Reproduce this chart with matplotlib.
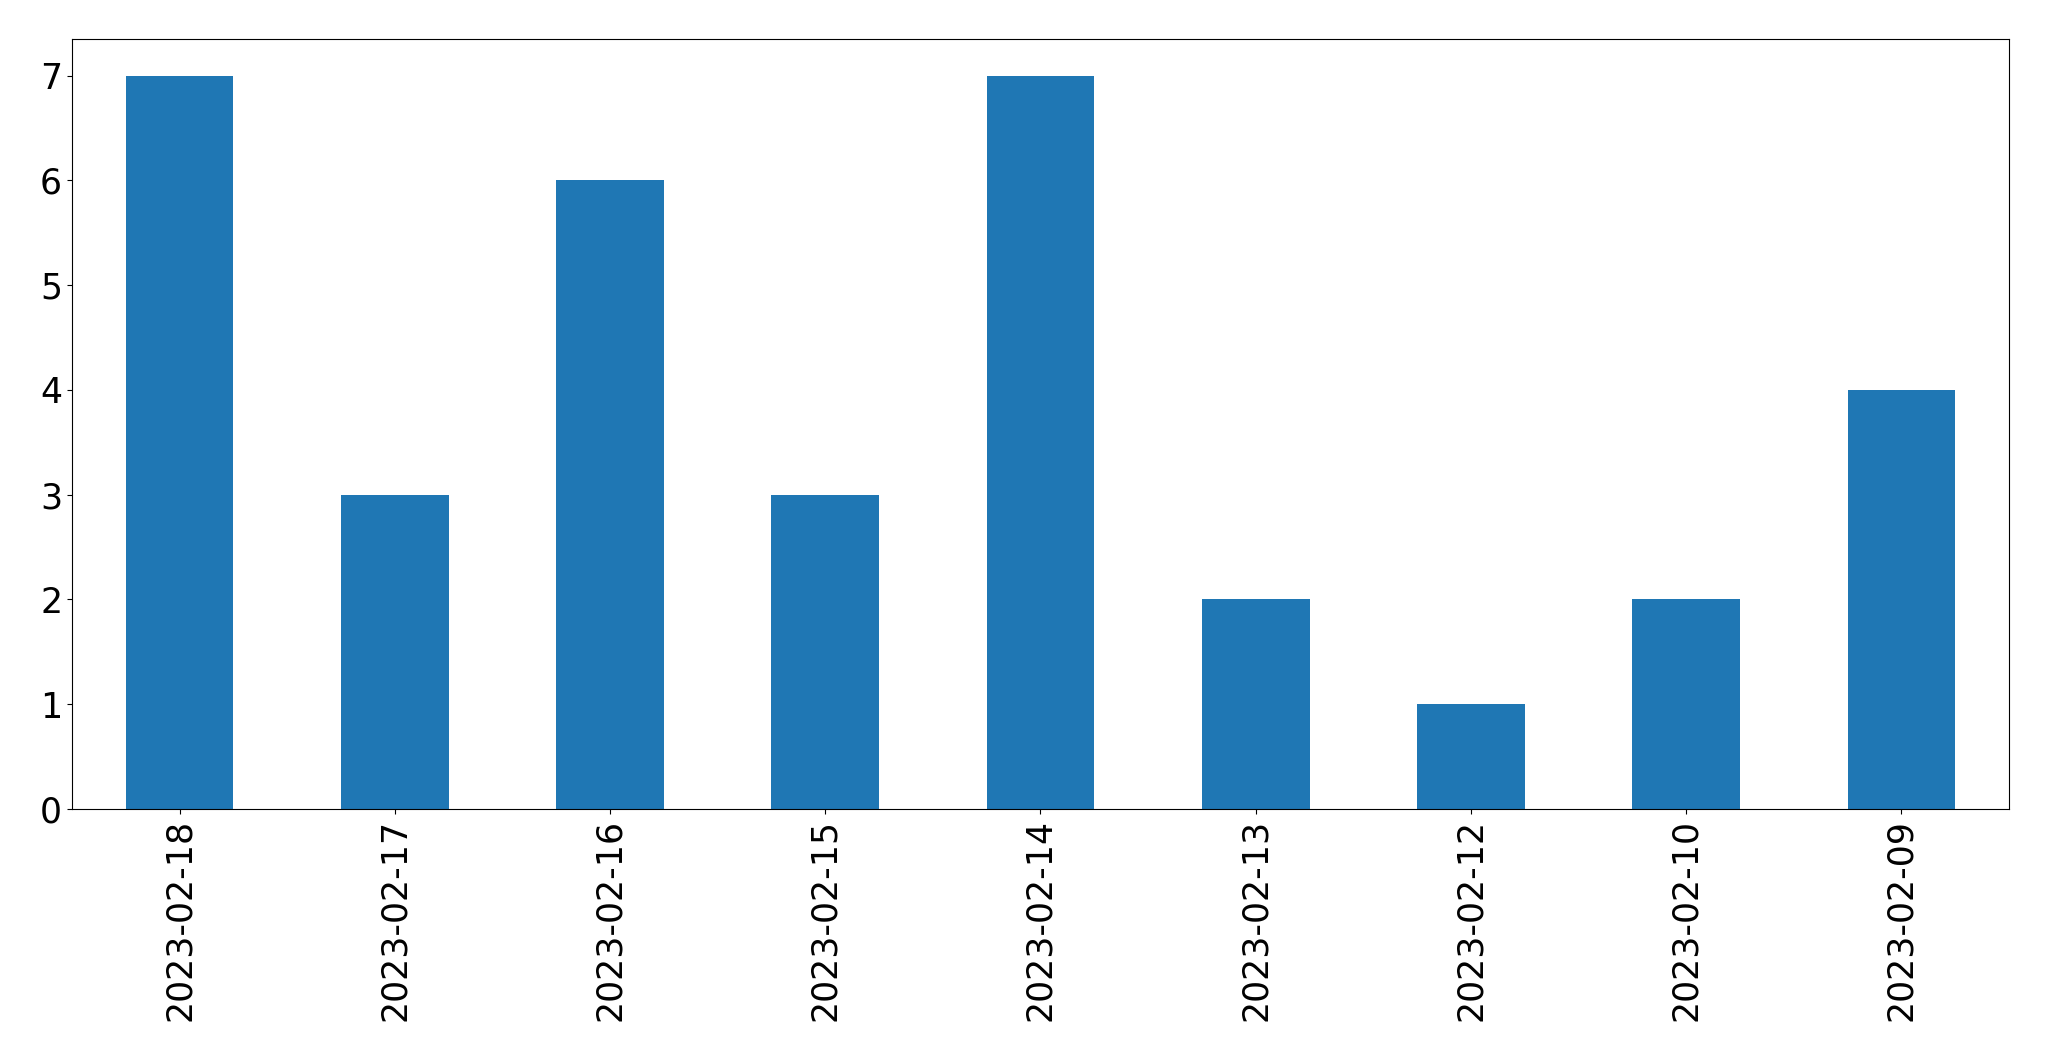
import matplotlib
matplotlib.use("Agg")
import matplotlib.pyplot as plt
import pandas as pd

# counts per day
dates = ["2023-02-18", "2023-02-17", "2023-02-16", "2023-02-15", "2023-02-14",
         "2023-02-13", "2023-02-12", "2023-02-10", "2023-02-09"]
counts = [7, 3, 6, 3, 7, 2, 1, 2, 4]

s = pd.Series(counts, index=dates)

fig, ax = plt.subplots(figsize=(20.49, 10.61), dpi=100)
s.plot(kind="bar", ax=ax, color="#1f77b4", fontsize=25)
ax.set_xlabel("")
fig.subplots_adjust(left=0.0351, right=0.9805, top=0.9632, bottom=0.2375)
fig.savefig("out.png", dpi=100)
